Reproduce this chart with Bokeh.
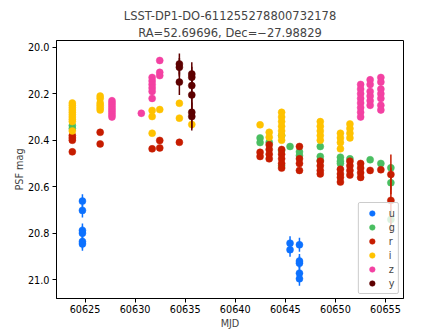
from bokeh.plotting import figure
from bokeh.models import Range1d, Title, Legend, LegendItem, FixedTicker, ColumnDataSource
from bokeh.embed import file_html
from bokeh.resources import INLINE

FONT = "DejaVu Sans"

bands = ["u", "g", "r", "i", "z", "y"]
colors = {"u": "#0c71ff", "g": "#49be61", "r": "#c61c00",
          "i": "#ffc200", "z": "#f341a2", "y": "#5d0000"}

# ---- data (MJD, PSF mag, error) per band ----
u_mjd = [60624.74] * 6 + [60645.47] * 2 + [60646.41] * 5
u_mag = [20.662, 20.702, 20.788, 20.800, 20.836, 20.846,
         20.843, 20.871,
         20.850, 20.920, 20.929, 20.972, 20.996]
u_err = [0.03] * 13

g_mjd = ([60623.73] * 2 + [60642.48] * 2 + [60643.39] + [60644.63] * 3 + [60645.47]
         + [60646.41] * 2 + [60648.49] * 3 + [60650.50] * 3 + [60651.45] + [60653.47]
         + [60654.54] + [60655.54] * 3)
g_mag = [20.337, 20.350, 20.390, 20.410, 20.409, 20.380, 20.445, 20.510, 20.427,
         20.450, 20.466, 20.427, 20.470, 20.487, 20.473, 20.490, 20.500, 20.480,
         20.484, 20.500, 20.519, 20.583, 20.741]
g_err = [0.012] * 20 + [0.015, 0.03, 0.04]

r_mjd = ([60623.73] * 4 + [60626.51] * 2 + [60631.70] + [60632.46] * 2 + [60634.42]
         + [60642.48] * 2 + [60643.39] * 4 + [60644.63] * 5 + [60646.41] * 4
         + [60648.49] * 4 + [60650.50] * 4 + [60651.45] * 4 + [60652.52] * 4
         + [60653.47] + [60654.54] + [60655.54] * 2)
r_mag = [20.380, 20.390, 20.400, 20.450,
         20.366, 20.416,
         20.437,
         20.401, 20.433,
         20.409,
         20.452, 20.470,
         20.420, 20.440, 20.460, 20.480,
         20.440, 20.460, 20.480, 20.500, 20.520,
         20.427, 20.480, 20.500, 20.530,
         20.490, 20.510, 20.530, 20.545,
         20.525, 20.545, 20.560, 20.580,
         20.490, 20.510, 20.530, 20.550,
         20.500, 20.520, 20.540, 20.560,
         20.530,
         20.527,
         20.547, 20.659]
r_err = [0.012] * 43 + [0.085, 0.14]

i_mjd = ([60623.73] * 10 + [60626.51] * 6 + [60631.70] * 3 + [60632.46] + [60634.42] * 2
         + [60635.66] + [60642.48] + [60643.39] * 2 + [60644.63] * 7 + [60648.49] * 5
         + [60650.50] * 4 + [60651.45] * 4)
i_mag = [20.240, 20.250, 20.260, 20.270, 20.280, 20.290, 20.300, 20.310, 20.320, 20.360,
         20.210, 20.220, 20.240, 20.250, 20.260, 20.270,
         20.272, 20.298, 20.370,
         20.268,
         20.241, 20.305,
         20.332,
         20.334,
         20.366, 20.387,
         20.280, 20.300, 20.320, 20.340, 20.360, 20.380, 20.400,
         20.320, 20.340, 20.360, 20.380, 20.400,
         20.370, 20.390, 20.410, 20.437,
         20.330, 20.350, 20.370, 20.390]
i_err = [0.01] * len(i_mag)

z_mjd = ([60627.69] * 8 + [60630.62] + [60631.70] * 6 + [60632.46] * 3
         + [60652.52] * 8 + [60653.47] * 6 + [60654.54] * 7)
z_mag = [20.230, 20.240, 20.250, 20.260, 20.270, 20.280, 20.290, 20.300,
         20.284,
         20.130, 20.145, 20.160, 20.175, 20.190, 20.220,
         20.057, 20.108, 20.122,
         20.160, 20.180, 20.200, 20.220, 20.240, 20.260, 20.280, 20.300,
         20.140, 20.160, 20.190, 20.210, 20.230, 20.250,
         20.130, 20.150, 20.180, 20.200, 20.220, 20.250, 20.270]
z_err = [0.014] * len(z_mag)

y_mjd = [60634.42] * 3 + [60635.66] * 6
y_mag = [20.072, 20.086, 20.150, 20.115, 20.129, 20.165, 20.205, 20.280, 20.298]
y_err = [0.045, 0.04, 0.055, 0.05, 0.045, 0.05, 0.06, 0.07, 0.06]

data = {"u": (u_mjd, u_mag, u_err), "g": (g_mjd, g_mag, g_err),
        "r": (r_mjd, r_mag, r_err), "i": (i_mjd, i_mag, i_err),
        "z": (z_mjd, z_mag, z_err), "y": (y_mjd, y_mag, y_err)}

title_line1 = "LSST-DP1-DO-611255278800732178"
title_line2 = "RA=52.69696, Dec=\u221227.98829"

y_ticks = [20.0, 20.2, 20.4, 20.6, 20.8, 21.0]
x_ticks = [60625, 60630, 60635, 60640, 60645, 60650, 60655]

p = figure(width=448, height=336, output_backend="svg", toolbar_location=None,
           x_range=Range1d(60622.15, 60656.8), y_range=Range1d(21.081, 19.971),
           min_border_left=56, min_border_right=45, min_border_top=40,
           min_border_bottom=38)
p.title = None
p.add_layout(Title(text=title_line2, align="center", text_font=FONT,
                   text_font_size="11.5px", text_font_style="normal",
                   offset=0, standoff=2), "above")
p.add_layout(Title(text=title_line1, align="center", text_font=FONT,
                   text_font_size="11.5px", text_font_style="normal",
                   offset=0, standoff=0), "above")

p.xgrid.visible = False
p.ygrid.visible = False
p.outline_line_color = "black"
p.outline_line_alpha = 1
p.outline_line_width = 1

for ax in (p.xaxis[0], p.yaxis[0]):
    ax.major_label_text_font = FONT
    ax.major_label_text_font_size = "9.7px"
    ax.major_label_text_color = "black"
    ax.axis_label_text_font = FONT
    ax.axis_label_text_font_size = "9.7px"
    ax.axis_label_text_font_style = "normal"
    ax.axis_line_color = "black"
    ax.major_tick_line_color = "black"
    ax.minor_tick_line_color = None
    ax.major_tick_out = 4
    ax.major_tick_in = 0

p.xaxis.major_label_standoff = 2
p.xaxis.axis_label_standoff = 2
p.yaxis.major_label_standoff = 3
p.yaxis.axis_label_standoff = 0

p.xaxis.axis_label = "MJD"
p.yaxis.axis_label = "PSF mag"
p.xaxis.ticker = FixedTicker(ticks=x_ticks)
p.yaxis.ticker = FixedTicker(ticks=y_ticks)
p.xaxis.major_label_overrides = {t: str(t) for t in x_ticks}
p.yaxis.major_label_overrides = {t: f"{t:.1f}" for t in y_ticks}

items = []
for b in bands:
    mjd, mag, err = data[b]
    src = ColumnDataSource(dict(x=mjd, y=mag,
                                lo=[m - e for m, e in zip(mag, err)],
                                hi=[m + e for m, e in zip(mag, err)]))
    p.segment(x0="x", y0="lo", x1="x", y1="hi", source=src,
              line_color=colors[b], line_width=1.5)
    r = p.scatter(x="x", y="y", source=src, size=7, marker="circle",
                  fill_color=colors[b], line_color=colors[b], line_width=0.5)
    items.append(LegendItem(label=b, renderers=[r]))

legend = Legend(items=items, location="bottom_right", margin=4,
                padding=3, spacing=0, glyph_width=20, glyph_height=14,
                label_height=14, label_width=6, label_standoff=7,
                label_text_font=FONT, label_text_font_size="9.7px",
                border_line_color="#cccccc", border_line_alpha=1,
                background_fill_color="white", background_fill_alpha=0.8)
legend.border_radius = 2
p.add_layout(legend, "center")

open("out.html", "w").write(file_html(p, INLINE))
